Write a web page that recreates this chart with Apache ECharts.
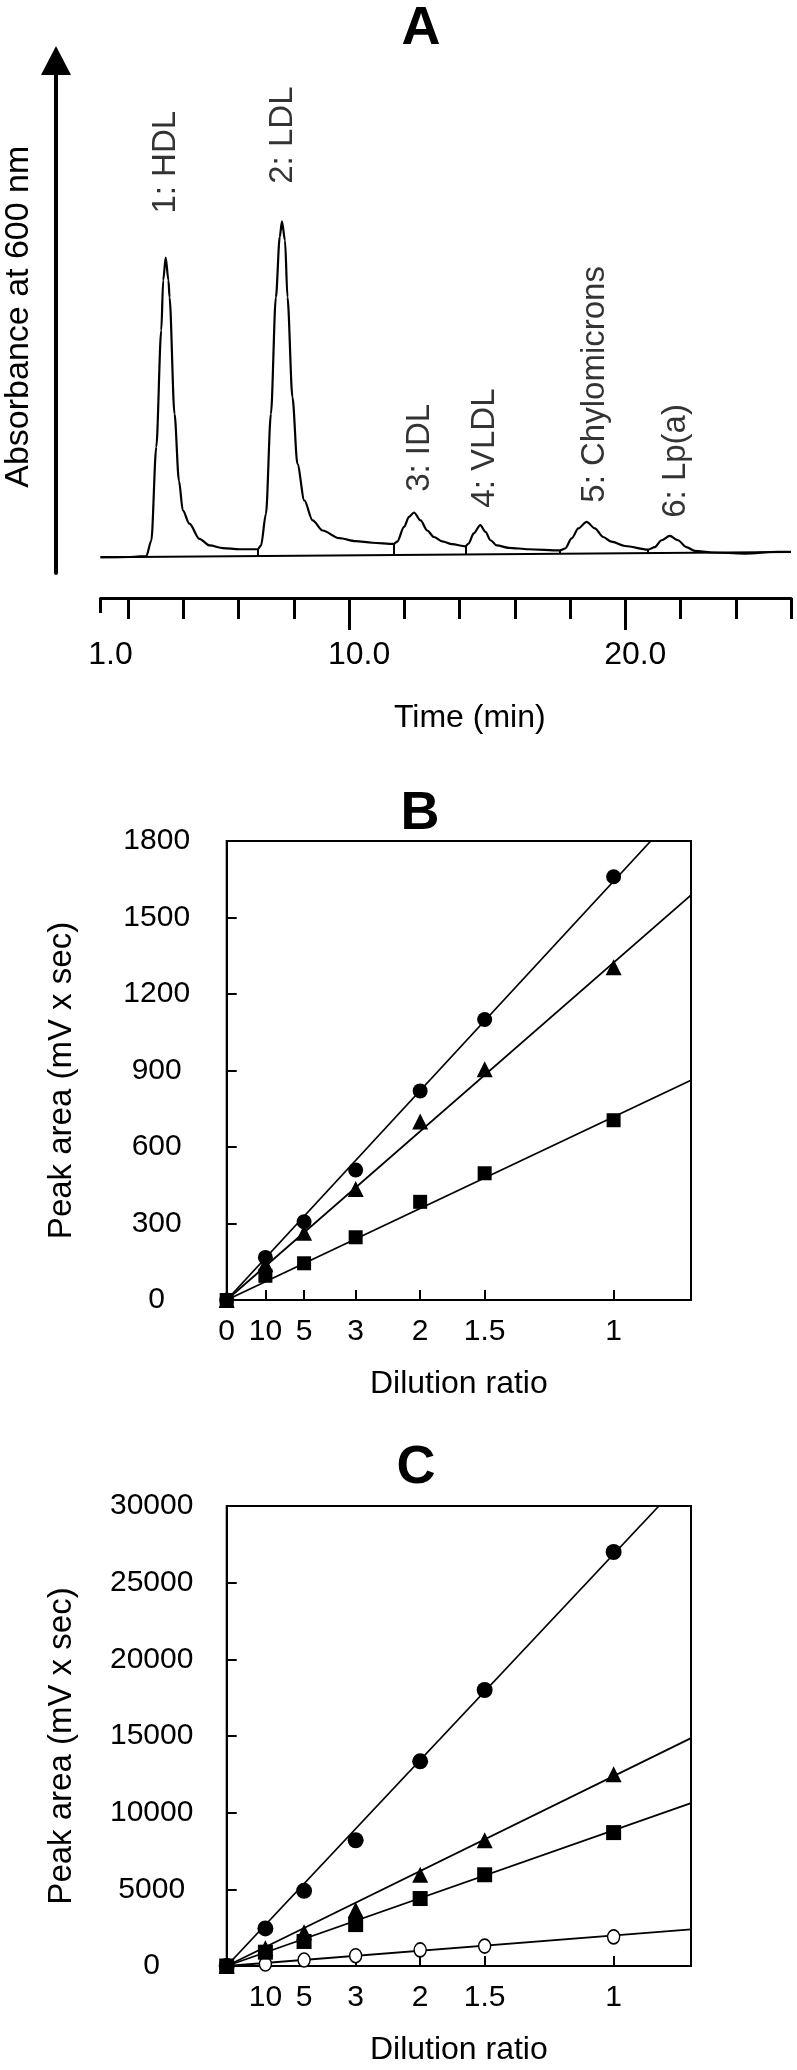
<!DOCTYPE html>
<html><head><meta charset="utf-8">
<script src="https://cdn.jsdelivr.net/npm/echarts@6/dist/echarts.min.js"></script>
<style>html,body{margin:0;padding:0;background:#fff}#c{width:797px;height:2070px}</style>
</head><body><div id="c"></div>
<script>
// ---------- Panel A: chromatogram ----------
const traceTime = [1.0, 2.0, 2.66, 2.84, 3.02, 3.20, 3.27, 3.36, 3.46, 3.50, 3.68, 3.84, 3.98, 4.22, 4.58, 4.95, 5.43, 6.03, 6.69,
  6.81, 6.99, 7.17, 7.35, 7.49, 7.57, 7.68, 7.77, 7.95, 8.13, 8.38, 8.68, 9.04, 9.64, 10.24, 10.84, 11.62,
  11.74, 11.99, 12.17, 12.35, 12.59, 12.83, 13.07, 13.37, 13.73, 14.21,
  14.33, 14.51, 14.75, 14.94, 15.12, 15.35, 15.78, 16.5, 17.64,
  17.82, 18.06, 18.3, 18.6, 18.9, 19.2, 19.5, 19.99, 20.83,
  21.07, 21.31, 21.61, 21.91, 22.21, 22.52, 23.12, 24.32, 25.52, 26.0];
const traceAbs = [0, 0.05, 0.3, 4.6, 30.6, 63, 76.9, 83.2, 76.9, 72.2, 39.8, 21.3, 13, 9.3, 5.1, 3.25, 2.5, 2.2, 2.2,
  3.2, 12, 39.8, 72.2, 89, 93.3, 88, 72.2, 44.4, 25.9, 15.75, 10.2, 7.4, 5.3, 4.45, 4.0, 3.7,
  4.3, 8.4, 11.2, 12.4, 10.2, 7.4, 5.6, 4.4, 3.6, 3.0,
  3.8, 6.6, 8.9, 7.0, 4.7, 3.25, 2.6, 2.2, 1.9,
  2.4, 5.2, 8.0, 9.8, 8.0, 5.6, 4.3, 3.1, 2.1,
  2.8, 4.7, 5.9, 4.7, 2.8, 1.75, 1.3, 1.0, 1.5, 1.5];
const baseTime = [1.0, 26.0];
const baseAbs = [0, 1.45];
const dropTime = [6.69, 11.62, 14.21, 17.64, 20.83];
const dropBottom = [0.3, 0.6, 0.75, 0.95, 1.15];
const dropTop = [2.2, 3.7, 3.0, 1.9, 2.1];
const peakLabelText = ['1: HDL', '2: LDL', '3: IDL', '4: VLDL', '5: Chylomicrons', '6: Lp(a)'];
const peakLabelTime = [3.39, 7.63, 12.57, 14.92, 18.92, 21.86];
const peakLabelAbs = [95.3, 103.6, 18, 13.6, 15, 10.8];
const timeMinorTicks = [2, 4, 6, 8, 12, 14, 16, 18, 22, 24, 26];
const timeMajorTicks = [10, 20];
const timeStartTick = [1];
const timeLabels = [1, 10, 20];

// ---------- Panels B and C: dilution series ----------
const dilutionRatio = ['0', '10', '5', '3', '2', '1.5', '1'];
const relConc = [0, 0.1, 0.2, 0.3333, 0.5, 0.6667, 1];   // 1 / dilution ratio
const bCircle = [0, 167, 307, 510, 820, 1100, 1660];
const bTriangle = [0, 140, 264, 435, 700, 905, 1305];
const bSquare = [0, 95, 144, 246, 385, 497, 705];
const bCircleFit = [[0, 0], [1.096, 1800]];
const bTriangleFit = [[0, 0], [1.2, 1588]];
const bSquareFit = [[0, 0], [1.2, 862]];

const cCircle = [0, 2450, 4900, 8200, 13350, 18000, 27000];
const cTriangle = [0, 1150, 2200, 3650, 5950, 8200, 12500];
const cSquare = [0, 900, 1600, 2700, 4400, 5950, 8700];
const cOpen = [0, 130, 390, 670, 1050, 1300, 1900];
const cCircleFit = [[0, 0], [1.117, 30000]];
const cTriangleFit = [[0, 0], [1.2, 14860]];
const cSquareFit = [[0, 0], [1.2, 10620]];
const cOpenFit = [[0, 0], [1.2, 2390]];

const FONT = '"Liberation Sans", Arial, Helvetica, sans-serif';
const BLACK = '#000';
const pairs = (xs, ys) => xs.map((x, i) => [x, ys[i]]);
const concLabel = v => { const i = relConc.findIndex(c => Math.abs(c - v) < 1e-3); return i < 0 ? '' : dilutionRatio[i]; };

const chart = echarts.init(document.getElementById('c'), null, {renderer: 'canvas', width: 797, height: 2070});

function titleOf(text, x, y) {
  return {text, left: x, top: y, textAlign: 'center', padding: 0,
    textStyle: {fontSize: 54, fontWeight: 'bold', color: BLACK, fontFamily: FONT}};
}
function hiddenTickAxis(gridIndex, ticks, len) {
  return {gridIndex, type: 'value', min: 1, max: 26, position: 'bottom', offset: 25,
    axisLine: {show: false, onZero: false}, splitLine: {show: false}, axisLabel: {show: false},
    axisTick: {show: true, customValues: ticks, length: len, lineStyle: {color: BLACK, width: 3}}};
}
function concAxis(gridIndex, labelVals) {
  return {gridIndex, type: 'value', min: 0, max: 1.2, position: 'bottom',
    axisLine: {show: true, onZero: false, lineStyle: {color: BLACK, width: 2}},
    axisTick: {show: true, inside: true, length: 10, customValues: relConc, lineStyle: {color: BLACK, width: 2}},
    axisLabel: {show: true, customValues: labelVals, formatter: concLabel, fontSize: 30, color: BLACK, fontFamily: FONT, margin: 17},
    splitLine: {show: false},
    name: 'Dilution ratio', nameLocation: 'middle', nameGap: 68, nameMoveOverlap: false,
    nameTextStyle: {fontSize: 32, color: BLACK, fontFamily: FONT}};
}
function areaAxis(gridIndex, max, interval, margin) {
  return {gridIndex, type: 'value', min: 0, max, interval, position: 'left',
    axisLine: {show: true, onZero: false, lineStyle: {color: BLACK, width: 2}},
    axisTick: {show: true, inside: true, length: 10, lineStyle: {color: BLACK, width: 2}},
    axisLabel: {show: true, fontSize: 30, color: BLACK, fontFamily: FONT, align: 'center', margin, formatter: v => String(v)},
    splitLine: {show: false},
    name: 'Peak area (mV x sec)', nameLocation: 'middle', nameGap: 148, nameMoveOverlap: false,
    nameTextStyle: {fontSize: 33, color: BLACK, fontFamily: FONT, padding: [0, 20, 0, 0]}};
}
function fitLine(x, y, data) {
  return {type: 'line', xAxisIndex: x, yAxisIndex: y, data, symbol: 'none', silent: true,
    lineStyle: {color: BLACK, width: 1.8}, clip: true, z: 2};
}
function points(x, y, data, symbol, size, filled) {
  return {type: 'scatter', xAxisIndex: x, yAxisIndex: y, data, symbol, symbolSize: size, silent: true,
    itemStyle: filled ? {color: BLACK, opacity: 1} : {color: '#fff', borderColor: BLACK, borderWidth: 1.5, opacity: 1},
    z: 3};
}

const option = {
  backgroundColor: '#fff',
  animation: false,
  textStyle: {fontFamily: FONT, color: BLACK},
  title: [titleOf('A', 421, 2), titleOf('B', 420, 787), titleOf('C', 416, 1441)],
  grid: [
    {left: 100.5, right: 6, top: 60.4, height: 512.6, outerBoundsMode: 'none'},
    {left: 226.7, right: 106, top: 841, height: 459, show: true, borderColor: BLACK, borderWidth: 2, backgroundColor: 'transparent', outerBoundsMode: 'none'},
    {left: 226.7, right: 106, top: 1506, height: 460, show: true, borderColor: BLACK, borderWidth: 2, backgroundColor: 'transparent', outerBoundsMode: 'none'}
  ],
  xAxis: [
    {gridIndex: 0, type: 'value', min: 1, max: 26, position: 'bottom', offset: 25,
      axisLine: {show: true, onZero: false, lineStyle: {color: BLACK, width: 3}},
      axisTick: {show: true, customValues: timeMinorTicks, length: 21, lineStyle: {color: BLACK, width: 3}},
      axisLabel: {show: true, customValues: timeLabels, formatter: v => v.toFixed(1), fontSize: 32, color: BLACK, fontFamily: FONT, margin: 41, padding: [0, 0, 0, 20]},
      splitLine: {show: false},
      name: 'Time (min)', nameLocation: 'middle', nameGap: 104, nameMoveOverlap: false,
      nameTextStyle: {fontSize: 32, color: BLACK, fontFamily: FONT, padding: [0, 0, 0, 48]}},
    hiddenTickAxis(0, timeMajorTicks, 32),
    hiddenTickAxis(0, timeStartTick, 15),
    concAxis(1, relConc),
    concAxis(2, relConc.slice(1))
  ],
  yAxis: [
    {gridIndex: 0, type: 'value', min: -4.4, max: 138, position: 'left', offset: 44.5,
      axisLine: {show: true, onZero: false, symbol: ['none', 'triangle'], symbolSize: [30, 29], lineStyle: {color: BLACK, width: 4, cap: 'round'}},
      axisTick: {show: false}, axisLabel: {show: false}, splitLine: {show: false},
      name: 'Absorbance at 600 nm', nameLocation: 'middle', nameGap: 20, nameMoveOverlap: false,
      nameTextStyle: {fontSize: 34, color: BLACK, fontFamily: FONT}},
    areaAxis(1, 1800, 300, 70),
    areaAxis(2, 30000, 5000, 75)
  ],
  series: [
    {type: 'line', xAxisIndex: 0, yAxisIndex: 0, data: pairs(baseTime, baseAbs), symbol: 'none', silent: true,
      lineStyle: {color: BLACK, width: 2}},
    {type: 'line', xAxisIndex: 0, yAxisIndex: 0, data: pairs(traceTime, traceAbs), symbol: 'none', silent: true,
      smooth: 0.3, smoothMonotone: 'x', lineStyle: {color: BLACK, width: 2.2},
      markLine: {silent: true, symbol: ['none', 'none'], label: {show: false}, lineStyle: {color: BLACK, width: 2, type: 'solid'},
        data: dropTime.map((t, i) => [{coord: [t, dropBottom[i]]}, {coord: [t, dropTop[i]]}])}},
    {type: 'scatter', xAxisIndex: 0, yAxisIndex: 0, silent: true, clip: false,
      data: peakLabelTime.map((t, i) => ({value: [t, peakLabelAbs[i]], name: peakLabelText[i]})),
      symbolSize: 1, itemStyle: {color: 'transparent'},
      label: {show: true, formatter: p => p.name, position: [0, 0], rotate: 90, align: 'left', verticalAlign: 'middle',
        fontSize: 33, color: BLACK, fontFamily: FONT}},

    fitLine(3, 1, bCircleFit), fitLine(3, 1, bTriangleFit), fitLine(3, 1, bSquareFit),
    points(3, 1, pairs(relConc, bCircle), 'circle', 15, true),
    points(3, 1, pairs(relConc, bTriangle), 'triangle', 16, true),
    points(3, 1, pairs(relConc, bSquare), 'rect', 14, true),

    fitLine(4, 2, cCircleFit), fitLine(4, 2, cTriangleFit), fitLine(4, 2, cSquareFit), fitLine(4, 2, cOpenFit),
    points(4, 2, pairs(relConc, cOpen), 'circle', [12, 14], false),
    points(4, 2, pairs(relConc, cCircle), 'circle', 16, true),
    points(4, 2, pairs(relConc, cTriangle), 'triangle', 16, true),
    points(4, 2, pairs(relConc, cSquare), 'rect', 15, true)
  ]
};
chart.setOption(option);
</script>
</body></html>
